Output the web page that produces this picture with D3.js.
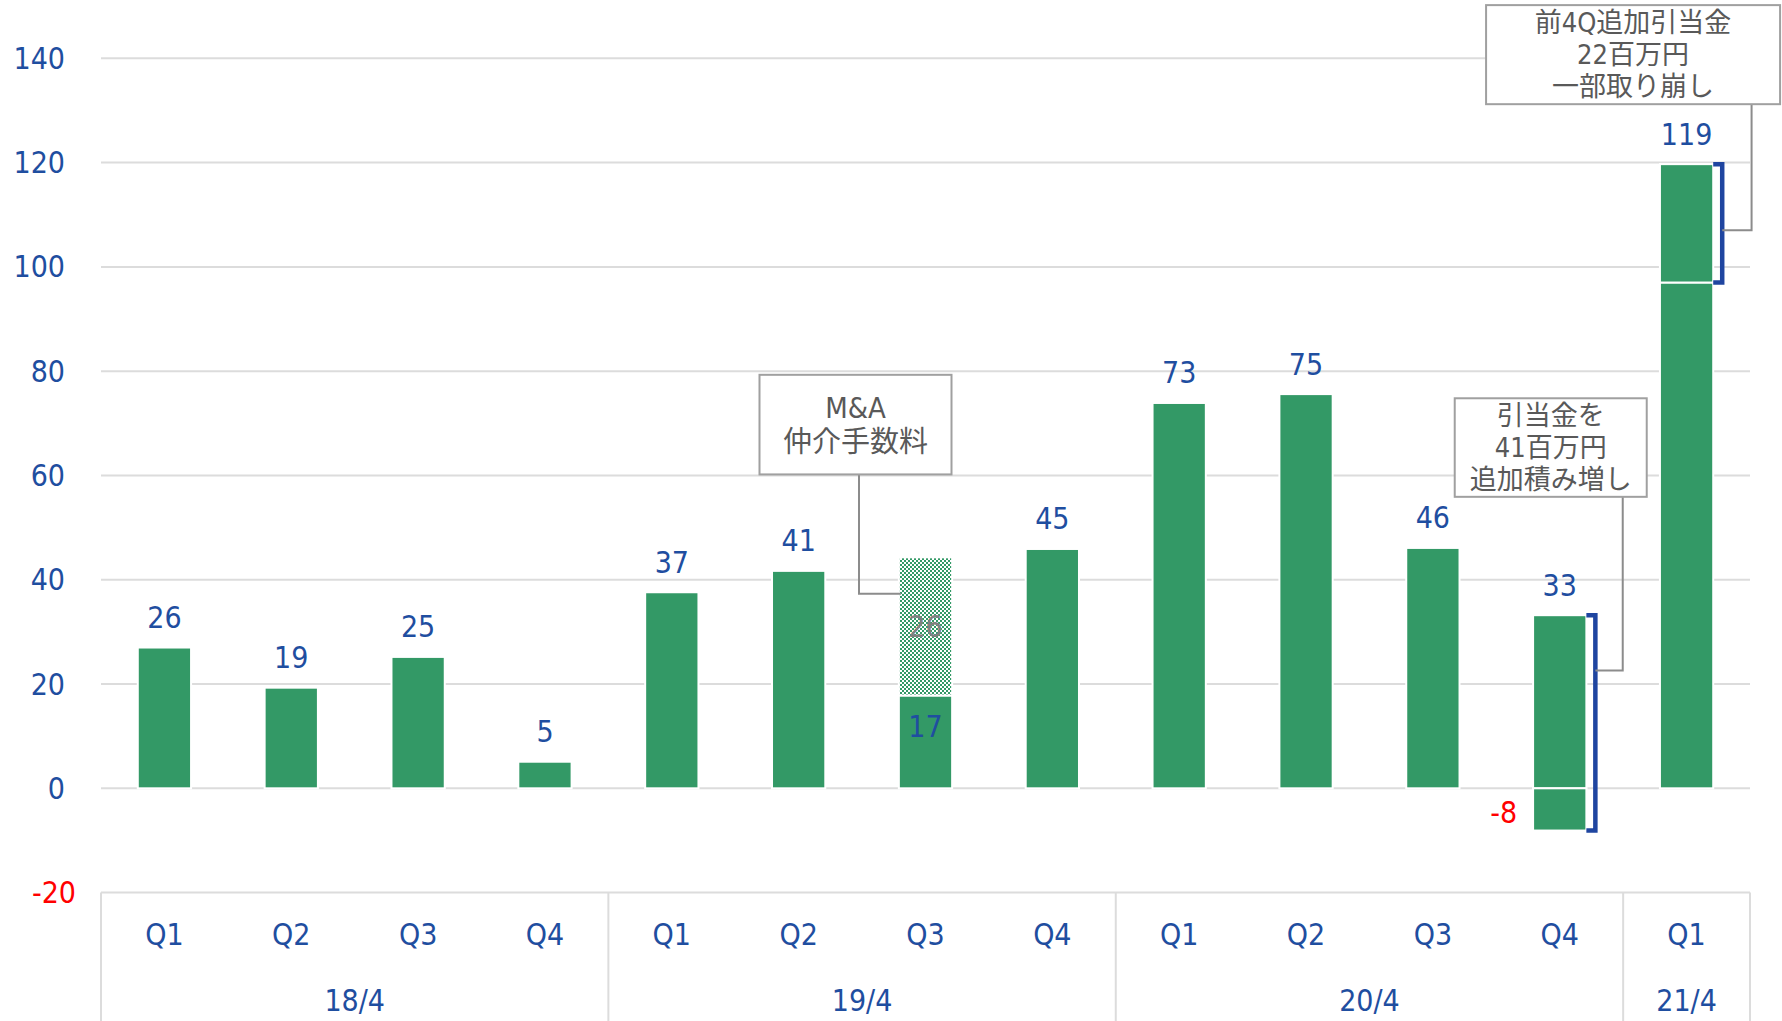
<!DOCTYPE html>
<html>
<head>
<meta charset="utf-8">
<script src="https://cdn.jsdelivr.net/npm/d3@7"></script>
<style>
  body { margin: 0; background: #fff; }
  svg { display: block; }
  text { font-family: "DejaVu Sans Condensed", "DejaVu Sans", "Noto Sans CJK JP", sans-serif; }
</style>
</head>
<body>
<script>
// Chart data
const quarters = ["Q1", "Q2", "Q3", "Q4", "Q1", "Q2", "Q3", "Q4", "Q1", "Q2", "Q3", "Q4", "Q1"];
const fiscalYears = ["18/4", "19/4", "20/4", "21/4"];
const quartersPerYear = [4, 4, 4, 1];

const baseValues = [27.0, 19.3, 25.2, 5.1, 37.6, 41.7, 17.8, 45.9, 73.9, 75.6, 46.1, 33.2, 97.0];
const negativeValues = [0, 0, 0, 0, 0, 0, 0, 0, 0, 0, 0, -8.1, 0];
const maFeeValues = [0, 0, 0, 0, 0, 0, 26.5, 0, 0, 0, 0, 0, 0];
const reversalValues = [0, 0, 0, 0, 0, 0, 0, 0, 0, 0, 0, 0, 22.7];

const valueLabels = ["26", "19", "25", "5", "37", "41", "17", "45", "73", "75", "46", "33", "119"];
const maFeeLabels = ["", "", "", "", "", "", "26", "", "", "", "", "", ""];
const negativeLabels = ["", "", "", "", "", "", "", "", "", "", "", "-8", ""];

const yTicks = [-20, 0, 20, 40, 60, 80, 100, 120, 140];

// Callout boxes
const notes = [
  { idx: 6, lines: ["M&A", "仲介手数料"], top: 79.3, bottom: 60.2 },
  { idx: 11, lines: ["引当金を", "41百万円", "追加積み増し"], top: 74.8, bottom: 55.9 },
  { idx: 12, lines: ["前4Q追加引当金", "22百万円", "一部取り崩し"], top: 150.2, bottom: 131.2 }
];

// Layout
const W = 1782, H = 1021;
const plot = { left: 101, right: 1750, top: 58.3, bottom: 892.6 };
const GREEN = "#339966", BLUE = "#1f4ea0", GRID = "#dcdcdc", NOTE = "#595959";

const svg = d3.select("body").append("svg").attr("width", W).attr("height", H);

const defs = svg.append("defs");
const pat = defs.append("pattern")
  .attr("id", "check").attr("patternUnits", "userSpaceOnUse")
  .attr("width", 4).attr("height", 4);
pat.append("rect").attr("width", 4).attr("height", 4).attr("fill", "#fff");
pat.append("rect").attr("width", 2).attr("height", 2).attr("fill", GREEN);
pat.append("rect").attr("x", 2).attr("y", 2).attr("width", 2).attr("height", 2).attr("fill", GREEN);

const x = d3.scaleBand().domain(d3.range(quarters.length)).range([plot.left, plot.right]).padding(0);
const y = d3.scaleLinear().domain([-20, 140]).range([plot.bottom, plot.top]);
const barW = x.bandwidth() * 0.42;
const cx = i => x(i) + x.bandwidth() / 2;

// Gridlines
svg.append("g").selectAll("line").data(yTicks).join("line")
  .attr("x1", plot.left).attr("x2", plot.right)
  .attr("y1", d => y(d)).attr("y2", d => y(d))
  .attr("stroke", GRID).attr("stroke-width", 2);

// Y labels (positive format has a trailing space)
svg.append("g").selectAll("text").data(yTicks).join("text")
  .attr("x", d => d < 0 ? 76 : 65)
  .attr("y", d => y(d))
  .attr("text-anchor", "end").attr("dominant-baseline", "central")
  .attr("font-size", 30)
  .attr("fill", d => d < 0 ? "#ff0000" : BLUE)
  .text(d => d);

// Category axis with year groups
let start = 0;
const groups = fiscalYears.map((name, g) => {
  const grp = { name, from: start, to: start + quartersPerYear[g] - 1 };
  start += quartersPerYear[g];
  return grp;
});
const bounds = [plot.left].concat(groups.map(g => x(g.to) + x.bandwidth()));
svg.append("g").selectAll("line").data(bounds).join("line")
  .attr("x1", d => d).attr("x2", d => d)
  .attr("y1", plot.bottom).attr("y2", H)
  .attr("stroke", GRID).attr("stroke-width", 2);

svg.append("g").selectAll("text").data(quarters).join("text")
  .attr("x", (d, i) => cx(i)).attr("y", 934)
  .attr("text-anchor", "middle").attr("dominant-baseline", "central")
  .attr("font-size", 30).attr("fill", BLUE)
  .text(d => d);

svg.append("g").selectAll("text").data(groups).join("text")
  .attr("x", g => (x(g.from) + x(g.to) + x.bandwidth()) / 2).attr("y", 1000)
  .attr("text-anchor", "middle").attr("dominant-baseline", "central")
  .attr("font-size", 30).attr("fill", BLUE)
  .text(g => g.name);

// Bar segments
const segs = [];
quarters.forEach((q, i) => {
  segs.push({ i, y0: 0, y1: baseValues[i], fill: GREEN });
  if (negativeValues[i]) segs.push({ i, y0: negativeValues[i], y1: 0, fill: GREEN });
  if (maFeeValues[i]) segs.push({ i, y0: baseValues[i], y1: baseValues[i] + maFeeValues[i], fill: "url(#check)" });
  if (reversalValues[i]) segs.push({ i, y0: baseValues[i], y1: baseValues[i] + reversalValues[i], fill: GREEN });
});
svg.append("g").selectAll("rect").data(segs).join("rect")
  .attr("x", d => cx(d.i) - barW / 2)
  .attr("width", barW)
  .attr("y", d => y(d.y1))
  .attr("height", d => y(d.y0) - y(d.y1))
  .attr("fill", d => d.fill)
  .attr("stroke", "#fff").attr("stroke-width", 2);

// Value labels
const totals = quarters.map((q, i) => baseValues[i] + reversalValues[i]);
const labels = svg.append("g").attr("font-size", 30).attr("dominant-baseline", "central");
quarters.forEach((q, i) => {
  if (maFeeValues[i]) {
    labels.append("text").attr("x", cx(i)).attr("y", y(baseValues[i]) + 31)
      .attr("text-anchor", "middle").attr("fill", BLUE).text(valueLabels[i]);
    labels.append("text").attr("x", cx(i))
      .attr("y", y(baseValues[i] + maFeeValues[i] / 2))
      .attr("text-anchor", "middle").attr("fill", "#808080").text(maFeeLabels[i]);
  } else {
    labels.append("text").attr("x", cx(i)).attr("y", y(totals[i]) - 30)
      .attr("text-anchor", "middle").attr("fill", BLUE).text(valueLabels[i]);
  }
  if (negativeValues[i]) {
    labels.append("text").attr("x", cx(i) - barW / 2 - 16).attr("y", y(negativeValues[i] / 2) + 3)
      .attr("text-anchor", "end").attr("fill", "#ff0000").text(negativeLabels[i]);
  }
});

// Brackets
const brackets = [
  { i: 11, from: negativeValues[11], to: baseValues[11] },
  { i: 12, from: baseValues[12], to: baseValues[12] + reversalValues[12] }
];
svg.append("g").selectAll("path").data(brackets).join("path")
  .attr("d", b => {
    const xr = cx(b.i) + barW / 2;
    const xb = xr + 9;
    return `M${xr},${y(b.to)} H${xb} V${y(b.from)} H${xr}`;
  })
  .attr("fill", "none").attr("stroke", "#1f45a0").attr("stroke-width", 4.5);

// Callouts
const noteBoxes = [
  { dx: -70, w: 192, leaderX: -66.5, attach: 37.3, fs: 29, lh: 34 },
  { dx: -9, w: 192, leaderX: 63, attach: 22.6, fs: 27, lh: 32 },
  { dx: -53.5, w: 294, leaderX: 65, attach: 107, fs: 27, lh: 32 }
];
notes.forEach((n, k) => {
  const b = noteBoxes[k];
  const c = cx(n.idx) + b.dx;
  const g = svg.append("g");
  // leader line
  let d;
  if (k === 0) {
    d = `M${cx(n.idx) + b.leaderX},${y(n.bottom)} V${y(b.attach)} H${cx(n.idx) - barW / 2 + 2}`;
  } else {
    const xb = cx(n.idx) + barW / 2 + 9;
    d = `M${xb},${y(b.attach)} H${cx(n.idx) + b.leaderX} V${y(n.bottom)}`;
  }
  g.append("path").attr("d", d).attr("fill", "none").attr("stroke", "#8c8c8c").attr("stroke-width", 2);
  g.append("rect")
    .attr("x", c - b.w / 2).attr("y", y(n.top))
    .attr("width", b.w).attr("height", y(n.bottom) - y(n.top))
    .attr("fill", "#fff").attr("stroke", "#a0a0a0").attr("stroke-width", 2);
  const midY = (y(n.top) + y(n.bottom)) / 2;
  n.lines.forEach((t, j) => {
    g.append("text")
      .attr("x", c).attr("y", midY + (j - (n.lines.length - 1) / 2) * b.lh)
      .attr("text-anchor", "middle").attr("dominant-baseline", "central")
      .attr("font-size", b.fs).attr("fill", NOTE)
      .text(t);
  });
});
</script>
</body>
</html>
